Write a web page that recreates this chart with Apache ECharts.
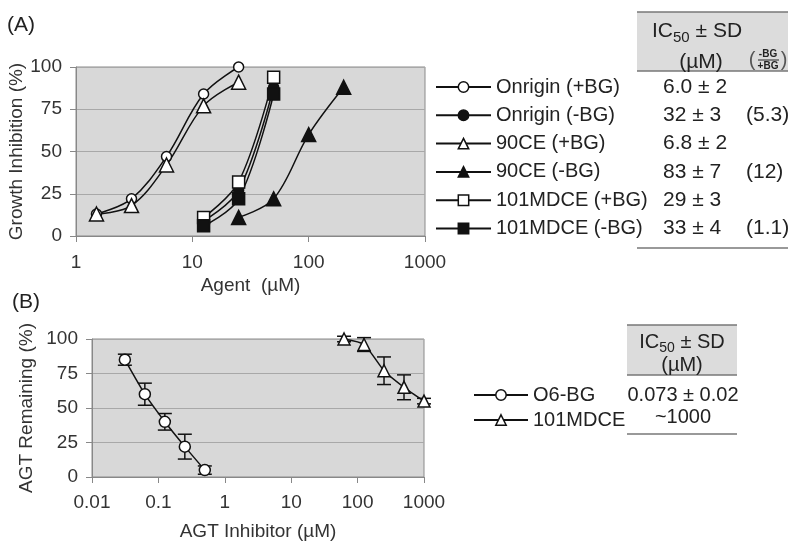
<!DOCTYPE html>
<html>
<head>
<meta charset="utf-8">
<script src="https://cdn.jsdelivr.net/npm/echarts@6/dist/echarts.min.js"></script>
<style>html,body{margin:0;padding:0;background:#fff}#c{width:800px;height:552px}</style>
</head>
<body>
<div id="c"></div>
<script>
// ---- Panel A data ----
const seriesNamesA = ['Onrigin (+BG)', 'Onrigin (-BG)', '90CE (+BG)', '90CE (-BG)', '101MDCE (+BG)', '101MDCE (-BG)'];
const agentOnriginPlus = [1.5, 3, 6, 12.5, 25];
const inhibOnriginPlus = [13, 22, 47, 84, 100];
const agentOnriginMinus = [12.5, 25, 50];
const inhibOnriginMinus = [9, 27, 88];
const agent90Plus = [1.5, 3, 6, 12.5, 25];
const inhib90Plus = [13, 18, 42, 77, 91];
const agent90Minus = [25, 50, 100, 200];
const inhib90Minus = [11, 22, 60, 88];
const agent101Plus = [12.5, 25, 50];
const inhib101Plus = [11, 32, 94];
const agent101Minus = [12.5, 25, 50];
const inhib101Minus = [6, 22, 84];
const ic50A = ['6.0 ± 2', '32 ± 3', '6.8 ± 2', '83 ± 7', '29 ± 3', '33 ± 4'];
const ratioA = ['', '(5.3)', '', '(12)', '', '(1.1)'];

// ---- Panel B data ----
const seriesNamesB = ['O6-BG', '101MDCE'];
const bgConc = [0.03125, 0.0625, 0.125, 0.25, 0.5];
const bgRemain = [85, 60, 40, 22, 5];
const bgErr = [4, 8, 6, 9, 3];
const mdceConc = [62.5, 125, 250, 500, 1000];
const mdceRemain = [100, 96, 77, 65, 55];
const mdceErr = [2, 5, 10, 9, 2];
const ic50B = ['0.073 ± 0.02', '~1000'];

const FONT = 'Liberation Sans, Arial, sans-serif';
const pair = (xs, ys) => xs.map((x, i) => [x, ys[i]]);
const triple = (xs, ys, es) => xs.map((x, i) => [x, ys[i], es[i]]);
const plainNum = v => String(Number(Number(v).toPrecision(3)));

function lineSeries(name, data, symbol, filled, size, xi, smooth) {
  return {
    name, type: 'line', xAxisIndex: xi, yAxisIndex: xi, data,
    symbol, symbolSize: size, smooth: smooth, showAllSymbol: true,
    lineStyle: {color: '#111', width: 1.5},
    itemStyle: {color: filled ? '#111' : '#fff', borderColor: '#111', borderWidth: 1.5},
    emphasis: {disabled: true}, z: 3
  };
}
function errSeries(data, xi) {
  return {
    type: 'custom', xAxisIndex: xi, yAxisIndex: xi, data, z: 1, silent: true,
    renderItem: function (params, api) {
      const x = api.value(0), y = api.value(1), e = api.value(2);
      const top = api.coord([x, y + e]);
      const bot = api.coord([x, y - e]);
      const hw = 7;
      const st = {stroke: '#111', lineWidth: 1.5};
      return {type: 'group', children: [
        {type: 'line', shape: {x1: top[0], y1: top[1], x2: bot[0], y2: bot[1]}, style: st},
        {type: 'line', shape: {x1: top[0] - hw, y1: top[1], x2: top[0] + hw, y2: top[1]}, style: st},
        {type: 'line', shape: {x1: bot[0] - hw, y1: bot[1], x2: bot[0] + hw, y2: bot[1]}, style: st}
      ]};
    }
  };
}

const axisCommonY = {
  type: 'value', min: 0, max: 100, interval: 25,
  axisLine: {show: true, lineStyle: {color: '#888', width: 1}},
  axisTick: {show: true, length: 6, lineStyle: {color: '#888'}},
  axisLabel: {fontFamily: FONT, fontSize: 19, color: '#333', margin: 14},
  splitLine: {show: true, lineStyle: {color: '#a8a8a8', width: 1}},
  nameLocation: 'middle', nameRotate: 90,
  nameTextStyle: {fontFamily: FONT, fontSize: 19, color: '#333'}
};
const axisCommonX = {
  type: 'log', logBase: 10,
  axisLine: {show: true, lineStyle: {color: '#888', width: 1}},
  axisTick: {show: true, length: 6, lineStyle: {color: '#888'}},
  splitLine: {show: false},
  nameLocation: 'middle',
  nameTextStyle: {fontFamily: FONT, fontSize: 19, color: '#333'}
};

// table graphics
const graphics = [];
function txt(x, y, text, opts) {
  graphics.push({type: 'text', x, y, style: Object.assign({
    text, fontFamily: FONT, fontSize: 21, fill: '#222', textVerticalAlign: 'middle', verticalAlign: 'middle'
  }, opts || {})});
}
function hline(x1, x2, y, color, w) {
  graphics.push({type: 'line', shape: {x1, y1: y, x2, y2: y}, style: {stroke: color || '#777', lineWidth: w || 1.5}});
}
// panel labels
txt(7, 25, '(A)', {fontSize: 21});
txt(12, 302, '(B)', {fontSize: 21});
// Table A header
graphics.push({type: 'rect', shape: {x: 637, y: 12, width: 151, height: 59}, style: {fill: '#dcdcdc'}});
hline(637, 788, 12);
hline(637, 788, 71);
graphics.push({type: 'text', x: 652, y: 38, style: {
  text: '{a|IC}{s|50}{a| ± SD}', verticalAlign: 'middle', textVerticalAlign: 'middle',
  rich: {a: {fontFamily: FONT, fontSize: 21, fill: '#222', lineHeight: 22, verticalAlign: 'top'},
         s: {fontFamily: FONT, fontSize: 15, fill: '#222', lineHeight: 34, verticalAlign: 'middle'}}
}});
txt(701, 62, '(µM)', {align: 'center', textAlign: 'center'});
txt(752, 60, '(', {fontSize: 20, fill: '#555', align: 'center', textAlign: 'center'});
txt(784, 60, ')', {fontSize: 20, fill: '#555', align: 'center', textAlign: 'center'});
txt(768, 54, '-BG', {fontSize: 10, fontWeight: 'bold', align: 'center', textAlign: 'center'});
txt(768, 66, '+BG', {fontSize: 10, fontWeight: 'bold', align: 'center', textAlign: 'center'});
graphics.push({type: 'line', shape: {x1: 758, y1: 60, x2: 779, y2: 60}, style: {stroke: '#222', lineWidth: 1}});
ic50A.forEach((t, i) => {
  const y = 87 + i * 28.3;
  txt(663, y, t);
  if (ratioA[i]) txt(746, y, ratioA[i]);
});
hline(637, 788, 248);
// Table B header
graphics.push({type: 'rect', shape: {x: 627, y: 325, width: 110, height: 50}, style: {fill: '#dcdcdc'}});
hline(627, 737, 325);
hline(627, 737, 375);
graphics.push({type: 'text', x: 682, y: 348, style: {
  text: '{a|IC}{s|50}{a| ± SD}', align: 'center', textAlign: 'center', verticalAlign: 'middle', textVerticalAlign: 'middle',
  rich: {a: {fontFamily: FONT, fontSize: 20, fill: '#222', lineHeight: 21, verticalAlign: 'top'},
         s: {fontFamily: FONT, fontSize: 14, fill: '#222', lineHeight: 32, verticalAlign: 'middle'}}
}});
txt(682, 365, '(µM)', {fontSize: 20, align: 'center', textAlign: 'center'});
ic50B.forEach((t, i) => {
  txt(683, 395 + i * 22, t, {fontSize: 20, align: 'center', textAlign: 'center'});
});
hline(627, 737, 434);

const option = {
  animation: false,
  backgroundColor: '#fff',
  grid: [
    {left: 76, top: 67, width: 349, height: 169, show: true, backgroundColor: '#d8d8d8', borderColor: '#8a8a8a', borderWidth: 1},
    {left: 92, top: 339, width: 332, height: 138, show: true, backgroundColor: '#d8d8d8', borderColor: '#8a8a8a', borderWidth: 1}
  ],
  xAxis: [
    Object.assign({}, axisCommonX, {gridIndex: 0, min: 1, max: 1000, name: 'Agent  (µM)', nameGap: 40,
      axisLabel: {fontFamily: FONT, fontSize: 19, color: '#333', margin: 17, formatter: plainNum}}),
    Object.assign({}, axisCommonX, {gridIndex: 1, min: 0.01, max: 1000, name: 'AGT Inhibitor (µM)', nameGap: 45,
      axisLabel: {fontFamily: FONT, fontSize: 19, color: '#333', margin: 16, formatter: plainNum}})
  ],
  yAxis: [
    Object.assign({}, axisCommonY, {gridIndex: 0, name: 'Growth Inhibition (%)', nameGap: 50}),
    Object.assign({}, axisCommonY, {gridIndex: 1, name: 'AGT Remaining (%)', nameGap: 56})
  ],
  legend: [
    {data: seriesNamesA, orient: 'vertical', left: 435, top: 77, padding: 0,
     itemWidth: 55, itemHeight: 13, itemGap: 8.3, selectedMode: false,
     itemStyle: {borderWidth: 1.5},
     textStyle: {fontFamily: FONT, fontSize: 20, color: '#222', lineHeight: 20}},
    {data: seriesNamesB, orient: 'vertical', left: 473, top: 385, padding: 0,
     itemWidth: 54, itemHeight: 13, itemGap: 5, selectedMode: false,
     itemStyle: {borderWidth: 1.5},
     textStyle: {fontFamily: FONT, fontSize: 20, color: '#222', lineHeight: 20}}
  ],
  graphic: graphics,
  series: [
    lineSeries(seriesNamesA[0], pair(agentOnriginPlus, inhibOnriginPlus), 'circle', false, 10, 0, 0.35),
    lineSeries(seriesNamesA[1], pair(agentOnriginMinus, inhibOnriginMinus), 'circle', true, 10, 0, 0.35),
    lineSeries(seriesNamesA[2], pair(agent90Plus, inhib90Plus), 'triangle', false, 14, 0, 0.35),
    lineSeries(seriesNamesA[3], pair(agent90Minus, inhib90Minus), 'triangle', true, 14, 0, 0.35),
    lineSeries(seriesNamesA[4], pair(agent101Plus, inhib101Plus), 'rect', false, 12, 0, 0.35),
    lineSeries(seriesNamesA[5], pair(agent101Minus, inhib101Minus), 'rect', true, 12, 0, 0.35),
    errSeries(triple(bgConc, bgRemain, bgErr), 1),
    errSeries(triple(mdceConc, mdceRemain, mdceErr), 1),
    lineSeries(seriesNamesB[0], pair(bgConc, bgRemain), 'circle', false, 11, 1, 0.2),
    lineSeries(seriesNamesB[1], pair(mdceConc, mdceRemain), 'triangle', false, 12, 1, 0.2)
  ]
};
const chart = echarts.init(document.getElementById('c'), null, {renderer: 'canvas'});
chart.setOption(option);
</script>
</body>
</html>
